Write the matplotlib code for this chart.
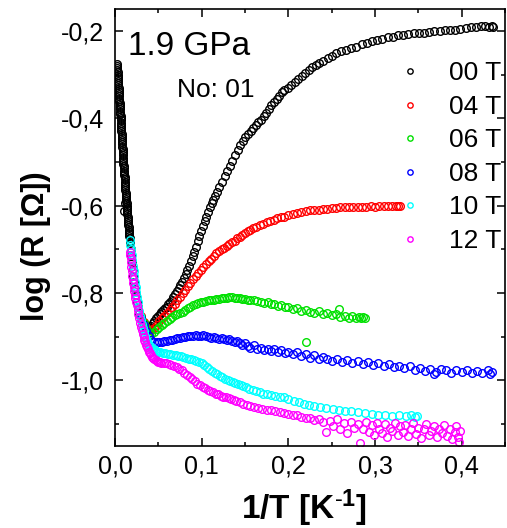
import matplotlib
matplotlib.use("Agg")
import matplotlib.pyplot as plt
from matplotlib.ticker import MultipleLocator, FuncFormatter

plt.rcParams['font.family'] = ['Liberation Sans', 'DejaVu Sans']
plt.rcParams['mathtext.fontset'] = 'custom'
plt.rcParams['mathtext.bf'] = 'Liberation Sans:bold'
plt.rcParams['mathtext.rm'] = 'Liberation Sans'
plt.rcParams['mathtext.default'] = 'bf'
plt.rcParams['axes.unicode_minus'] = False

# 00 T
t00_x = [0.0023, 0.0025, 0.0026, 0.0028, 0.0030, 0.0031, 0.0033, 0.0035, 0.0037, 0.0038,
         0.0040, 0.0042, 0.0044, 0.0045, 0.0047, 0.0049, 0.0051, 0.0052, 0.0054, 0.0056,
         0.0057, 0.0059, 0.0061, 0.0062, 0.0064, 0.0066, 0.0068, 0.0069, 0.0071, 0.0072,
         0.0074, 0.0075, 0.0077, 0.0078, 0.0080, 0.0081, 0.0083, 0.0084, 0.0086, 0.0087,
         0.0089, 0.0090, 0.0092, 0.0093, 0.0095, 0.0096, 0.0098, 0.0100, 0.0102, 0.0104,
         0.0106, 0.0108, 0.0110, 0.0112, 0.0114, 0.0116, 0.0118, 0.0119, 0.0121, 0.0123,
         0.0125, 0.0127, 0.0129, 0.0131, 0.0133, 0.0135, 0.0137, 0.0140, 0.0142, 0.0144,
         0.0146, 0.0149, 0.0151, 0.0153, 0.0155, 0.0157, 0.0159, 0.0162, 0.0164, 0.0166,
         0.0168, 0.0170, 0.0172, 0.0115, 0.0104,
         0.0180, 0.0188, 0.0196, 0.0204, 0.0212, 0.0221, 0.0231, 0.0242,
         0.0255, 0.0268, 0.0282, 0.0297, 0.0313, 0.0330, 0.0348, 0.0366, 0.0384, 0.0400,
         0.0418, 0.0436, 0.0455, 0.0475, 0.0495, 0.0515, 0.0535, 0.0555, 0.0575, 0.0595,
         0.0615, 0.0635, 0.0655, 0.0675, 0.0695, 0.0715, 0.0735, 0.0755, 0.0775, 0.0795,
         0.0815, 0.0835, 0.0855, 0.0875, 0.0895, 0.0915, 0.0935, 0.0955, 0.0975, 0.0995,
         0.1015, 0.1035, 0.1055, 0.1075, 0.1095, 0.1115, 0.1135, 0.1155, 0.1175, 0.1205,
         0.1235, 0.1265, 0.1295, 0.1325, 0.1355, 0.1385, 0.1415, 0.1445, 0.1475, 0.1505,
         0.1535, 0.1565, 0.1595, 0.1625, 0.1655, 0.1685, 0.1715, 0.1745, 0.1775, 0.1805,
         0.1835, 0.1865, 0.1895, 0.1925, 0.1955, 0.1995, 0.2035, 0.2075, 0.2115, 0.2155,
         0.2195, 0.2235, 0.2275, 0.2315, 0.2355, 0.2405, 0.2455, 0.2505, 0.2555, 0.2605,
         0.2665, 0.2725, 0.2785, 0.2845, 0.2905, 0.2965, 0.3025, 0.3085, 0.3145, 0.3205,
         0.3265, 0.3325, 0.3385, 0.3445, 0.3505, 0.3565, 0.3625, 0.3685, 0.3745, 0.3805,
         0.3865, 0.3925, 0.3985, 0.4045, 0.4105, 0.4165, 0.4225, 0.4275, 0.4315, 0.4345,
         0.4365]
t00_y = [-0.275, -0.280, -0.285, -0.290, -0.295, -0.300, -0.305, -0.310, -0.315, -0.320,
         -0.325, -0.330, -0.335, -0.340, -0.345, -0.350, -0.355, -0.360, -0.365, -0.370,
         -0.375, -0.380, -0.385, -0.390, -0.395, -0.400, -0.405, -0.410, -0.415, -0.420,
         -0.425, -0.430, -0.435, -0.440, -0.445, -0.450, -0.455, -0.460, -0.465, -0.470,
         -0.475, -0.480, -0.485, -0.490, -0.495, -0.500, -0.505, -0.510, -0.515, -0.520,
         -0.525, -0.530, -0.535, -0.540, -0.545, -0.550, -0.555, -0.560, -0.565, -0.570,
         -0.575, -0.580, -0.585, -0.590, -0.595, -0.600, -0.605, -0.610, -0.615, -0.620,
         -0.625, -0.630, -0.635, -0.640, -0.645, -0.650, -0.655, -0.660, -0.665, -0.670,
         -0.675, -0.680, -0.685, -0.593, -0.613,
         -0.700, -0.715, -0.730, -0.745, -0.760, -0.775, -0.790, -0.805,
         -0.820, -0.833, -0.845, -0.856, -0.865, -0.872, -0.877, -0.880, -0.881, -0.880,
         -0.875, -0.869, -0.863, -0.857, -0.852, -0.847, -0.843, -0.839, -0.835, -0.831,
         -0.826, -0.821, -0.815, -0.809, -0.802, -0.795, -0.788, -0.781, -0.774, -0.766,
         -0.757, -0.747, -0.737, -0.727, -0.716, -0.705, -0.694, -0.682, -0.670, -0.658,
         -0.647, -0.636, -0.625, -0.614, -0.604, -0.595, -0.586, -0.577, -0.569, -0.557,
         -0.545, -0.533, -0.521, -0.509, -0.497, -0.485, -0.473, -0.462, -0.452, -0.443,
         -0.436, -0.430, -0.423, -0.416, -0.409, -0.403, -0.396, -0.388, -0.378, -0.369,
         -0.362, -0.355, -0.348, -0.341, -0.335, -0.330, -0.324, -0.318, -0.311, -0.304,
         -0.297, -0.289, -0.283, -0.279, -0.274, -0.268, -0.262, -0.257, -0.251, -0.247,
         -0.244, -0.240, -0.236, -0.231, -0.227, -0.224, -0.221, -0.218, -0.215, -0.213,
         -0.210, -0.209, -0.207, -0.206, -0.205, -0.204, -0.202, -0.201, -0.200, -0.199,
         -0.198, -0.197, -0.195, -0.193, -0.192, -0.191, -0.190, -0.189, -0.191, -0.190,
         -0.192]

# 04 T
t04_x = [0.030, 0.033, 0.036, 0.039, 0.042, 0.045, 0.048, 0.051, 0.054, 0.057,
         0.060, 0.063, 0.066, 0.069, 0.072, 0.075, 0.078, 0.081, 0.084, 0.087,
         0.090, 0.093, 0.096, 0.099, 0.102, 0.105, 0.108, 0.111, 0.114, 0.117,
         0.120, 0.123, 0.126, 0.129, 0.132, 0.135, 0.138, 0.141, 0.144, 0.147,
         0.150, 0.153, 0.156, 0.159, 0.163, 0.167, 0.171, 0.175, 0.179, 0.183,
         0.187, 0.191, 0.195, 0.200, 0.205, 0.210, 0.215, 0.220, 0.225, 0.230,
         0.235, 0.240, 0.245, 0.250, 0.255, 0.260, 0.265, 0.270, 0.275, 0.280,
         0.285, 0.290, 0.295, 0.300, 0.305, 0.310, 0.315, 0.320, 0.324, 0.327,
         0.329]
t04_y = [-0.852, -0.866, -0.877, -0.884, -0.885, -0.879, -0.872, -0.865, -0.858, -0.852,
         -0.845, -0.838, -0.832, -0.825, -0.817, -0.809, -0.800, -0.792, -0.784, -0.776,
         -0.768, -0.761, -0.754, -0.747, -0.740, -0.733, -0.727, -0.721, -0.715, -0.709,
         -0.704, -0.700, -0.696, -0.692, -0.688, -0.684, -0.680, -0.675, -0.671, -0.667,
         -0.663, -0.659, -0.655, -0.652, -0.648, -0.645, -0.641, -0.638, -0.635, -0.632,
         -0.629, -0.627, -0.625, -0.622, -0.620, -0.617, -0.615, -0.613, -0.611, -0.610,
         -0.609, -0.608, -0.607, -0.606, -0.605, -0.604, -0.604, -0.603, -0.603, -0.602,
         -0.602, -0.602, -0.601, -0.602, -0.601, -0.601, -0.600, -0.601, -0.600, -0.601,
         -0.600]

# 06 T
t06_x = [0.030, 0.033, 0.036, 0.039, 0.042, 0.045, 0.048, 0.051, 0.054, 0.057,
         0.060, 0.063, 0.066, 0.069, 0.072, 0.075, 0.078, 0.081, 0.084, 0.087,
         0.090, 0.093, 0.096, 0.099, 0.102, 0.105, 0.108, 0.111, 0.114, 0.117,
         0.120, 0.123, 0.126, 0.129, 0.132, 0.135, 0.138, 0.141, 0.144, 0.147,
         0.150, 0.153, 0.156, 0.160, 0.164, 0.168, 0.172, 0.176, 0.180, 0.184,
         0.188, 0.192, 0.196, 0.200, 0.205, 0.210, 0.215, 0.220, 0.225, 0.230,
         0.235, 0.240, 0.245, 0.250, 0.255, 0.259, 0.260, 0.265, 0.270, 0.274,
         0.278, 0.281, 0.284, 0.286, 0.288, 0.220]
t06_y = [-0.855, -0.869, -0.881, -0.890, -0.894, -0.889, -0.883, -0.878, -0.873, -0.868,
         -0.864, -0.859, -0.855, -0.851, -0.848, -0.846, -0.843, -0.839, -0.835, -0.831,
         -0.828, -0.825, -0.823, -0.821, -0.820, -0.818, -0.817, -0.816, -0.815, -0.814,
         -0.813, -0.812, -0.811, -0.811, -0.810, -0.810, -0.811, -0.812, -0.811, -0.813,
         -0.814, -0.815, -0.817, -0.816, -0.819, -0.820, -0.822, -0.821, -0.825, -0.826,
         -0.829, -0.828, -0.832, -0.833, -0.836, -0.834, -0.840, -0.839, -0.843, -0.845,
         -0.842, -0.848, -0.846, -0.851, -0.849, -0.836, -0.854, -0.852, -0.856, -0.853,
         -0.857, -0.855, -0.858, -0.854, -0.857, -0.913]

# 08 T
t08_x = [0.030, 0.033, 0.036, 0.039, 0.042, 0.045, 0.048, 0.051, 0.054, 0.057,
         0.060, 0.063, 0.066, 0.069, 0.072, 0.075, 0.078, 0.081, 0.084, 0.087,
         0.090, 0.093, 0.096, 0.099, 0.102, 0.105, 0.108, 0.111, 0.114, 0.117,
         0.120, 0.123, 0.126, 0.129, 0.132, 0.135, 0.138, 0.141, 0.144, 0.147,
         0.150, 0.153, 0.156, 0.160, 0.164, 0.168, 0.172, 0.176, 0.180, 0.184,
         0.188, 0.192, 0.196, 0.200, 0.205, 0.210, 0.215, 0.220, 0.225, 0.230,
         0.235, 0.240, 0.245, 0.250, 0.256, 0.262, 0.268, 0.274, 0.280, 0.286,
         0.292, 0.298, 0.304, 0.310, 0.316, 0.322, 0.328, 0.334, 0.340, 0.346,
         0.352, 0.358, 0.364, 0.368, 0.370, 0.376, 0.382, 0.388, 0.394, 0.400,
         0.406, 0.412, 0.418, 0.424, 0.430, 0.433, 0.435]
t08_y = [-0.858, -0.873, -0.887, -0.899, -0.908, -0.913, -0.913, -0.912, -0.911, -0.910,
         -0.909, -0.908, -0.907, -0.905, -0.904, -0.902, -0.901, -0.900, -0.899, -0.898,
         -0.898, -0.897, -0.898, -0.899, -0.897, -0.899, -0.900, -0.902, -0.901, -0.903,
         -0.905, -0.903, -0.906, -0.908, -0.906, -0.910, -0.912, -0.909, -0.915, -0.918,
         -0.914, -0.921, -0.925, -0.920, -0.928, -0.925, -0.930, -0.927, -0.933, -0.929,
         -0.935, -0.931, -0.938, -0.934, -0.940, -0.936, -0.945, -0.940, -0.948, -0.942,
         -0.952, -0.947, -0.950, -0.955, -0.950, -0.957, -0.953, -0.960, -0.956, -0.962,
         -0.958, -0.965, -0.961, -0.967, -0.963, -0.970, -0.966, -0.972, -0.968, -0.976,
         -0.971, -0.978, -0.973, -0.986, -0.980, -0.974, -0.976, -0.983, -0.977, -0.981,
         -0.975, -0.984, -0.978, -0.982, -0.976, -0.985, -0.980]

# 10 T
t10_x = [0.0170, 0.0177, 0.0185, 0.0192, 0.0200, 0.0207, 0.0215, 0.0222, 0.0230, 0.0237,
         0.0245, 0.0252, 0.0260, 0.0270, 0.0280, 0.0290, 0.0300, 0.0310, 0.0320, 0.0330,
         0.0340, 0.0350, 0.0360, 0.0370, 0.0380, 0.0390, 0.0400, 0.0415, 0.0430, 0.0445,
         0.0460, 0.0475, 0.0490, 0.0505, 0.0520, 0.0550, 0.0580,
         0.0610, 0.0640, 0.0670, 0.0700, 0.0730, 0.0760, 0.0790, 0.0820, 0.0850, 0.0880,
         0.0910, 0.0940, 0.0970, 0.1000, 0.1030, 0.1060, 0.1090, 0.1120, 0.1150, 0.1180,
         0.1210, 0.1240, 0.1270, 0.1300, 0.1330, 0.1360, 0.1390, 0.1420, 0.1450, 0.1480,
         0.1510, 0.1550, 0.1590, 0.1630, 0.1670, 0.1710, 0.1750, 0.1800, 0.1850, 0.1900,
         0.1950, 0.2000, 0.2060, 0.2120, 0.2180, 0.2240, 0.2300, 0.2370, 0.2440, 0.2510,
         0.2580, 0.2650, 0.2720, 0.2800, 0.2880, 0.2960, 0.3040, 0.3120, 0.3200, 0.3280,
         0.3360, 0.3420, 0.3460, 0.3490]
t10_y = [-0.678, -0.689, -0.700, -0.712, -0.725, -0.737, -0.750, -0.762, -0.775, -0.787,
         -0.798, -0.809, -0.820, -0.831, -0.842, -0.852, -0.862, -0.871, -0.879, -0.886,
         -0.893, -0.899, -0.905, -0.910, -0.914, -0.918, -0.921, -0.924, -0.927, -0.929,
         -0.931, -0.933, -0.934, -0.935, -0.936, -0.937, -0.938,
         -0.939, -0.940, -0.941, -0.942, -0.943, -0.944, -0.946, -0.948, -0.950, -0.952,
         -0.954, -0.956, -0.958, -0.961, -0.965, -0.969, -0.973, -0.978, -0.982, -0.986,
         -0.989, -0.993, -0.996, -0.998, -1.001, -1.004, -1.006, -1.008, -1.011, -1.013,
         -1.016, -1.019, -1.022, -1.025, -1.027, -1.030, -1.031, -1.034, -1.035, -1.037,
         -1.039, -1.042, -1.046, -1.050, -1.053, -1.056, -1.059, -1.061, -1.064, -1.066,
         -1.068, -1.070, -1.071, -1.073, -1.075, -1.076, -1.078, -1.079, -1.081, -1.080,
         -1.082, -1.080, -1.083, -1.081]

# 12 T
t12_x = [0.0173, 0.0177, 0.0180, 0.0185, 0.0190, 0.0195, 0.0200, 0.0205, 0.0210, 0.0215,
         0.0220, 0.0228, 0.0235, 0.0243, 0.0250, 0.0260, 0.0270, 0.0280, 0.0290, 0.0300,
         0.0310, 0.0320, 0.0330, 0.0340, 0.0350, 0.0360, 0.0370, 0.0380, 0.0390, 0.0400,
         0.0410, 0.0425, 0.0440, 0.0455, 0.0470, 0.0485, 0.0500, 0.0515, 0.0530,
         0.0560, 0.0590, 0.0620, 0.0650, 0.0680, 0.0710, 0.0740, 0.0770, 0.0800, 0.0830,
         0.0860, 0.0890, 0.0920, 0.0950, 0.0980, 0.1010, 0.1040, 0.1070, 0.1100, 0.1130,
         0.1160, 0.1190, 0.1220, 0.1250, 0.1280, 0.1310, 0.1340, 0.1370, 0.1400, 0.1440,
         0.1480, 0.1520, 0.1560, 0.1600, 0.1650, 0.1700, 0.1750, 0.1800, 0.1850, 0.1900,
         0.1950, 0.2000, 0.2050, 0.2100, 0.2150, 0.2200, 0.2250, 0.2300, 0.2350, 0.2400,
         0.2440, 0.2480, 0.2520, 0.2560, 0.2600, 0.2640, 0.2680, 0.2720, 0.2760, 0.2800,
         0.2830, 0.2860, 0.2900, 0.2930, 0.2960, 0.2990, 0.3020, 0.3050, 0.3080, 0.3110,
         0.3140, 0.3170, 0.3200, 0.3230, 0.3260, 0.3290, 0.3320, 0.3350, 0.3380, 0.3410,
         0.3440, 0.3470, 0.3500, 0.3530, 0.3560, 0.3590, 0.3620, 0.3650, 0.3680, 0.3710,
         0.3740, 0.3770, 0.3800, 0.3830, 0.3860, 0.3890, 0.3920, 0.3940, 0.3960, 0.3970,
         0.3980]
t12_y = [-0.705, -0.712, -0.720, -0.730, -0.740, -0.750, -0.760, -0.769, -0.778, -0.787,
         -0.795, -0.804, -0.812, -0.820, -0.828, -0.838, -0.848, -0.858, -0.868, -0.877,
         -0.885, -0.893, -0.900, -0.907, -0.913, -0.919, -0.924, -0.929, -0.934, -0.938,
         -0.942, -0.946, -0.949, -0.952, -0.954, -0.956, -0.957, -0.958, -0.959,
         -0.960, -0.961, -0.962, -0.964, -0.966, -0.969, -0.973, -0.977, -0.982, -0.987,
         -0.992, -0.997, -1.002, -1.007, -1.011, -1.014, -1.018, -1.021, -1.024, -1.027,
         -1.030, -1.032, -1.035, -1.037, -1.039, -1.041, -1.043, -1.045, -1.047, -1.050,
         -1.053, -1.056, -1.058, -1.061, -1.063, -1.065, -1.067, -1.068, -1.070, -1.072,
         -1.074, -1.076, -1.078, -1.080, -1.083, -1.085, -1.087, -1.090, -1.088, -1.095,
         -1.118, -1.092, -1.105, -1.088, -1.110, -1.097, -1.121, -1.094, -1.108, -1.099,
         -1.143, -1.112, -1.095, -1.118, -1.102, -1.125, -1.097, -1.110, -1.120, -1.100,
         -1.130, -1.108, -1.115, -1.098, -1.125, -1.105, -1.118, -1.102, -1.128, -1.110,
         -1.098, -1.122, -1.108, -1.132, -1.112, -1.100, -1.125, -1.115, -1.105, -1.130,
         -1.112, -1.120, -1.103, -1.128, -1.110, -1.135, -1.118, -1.105, -1.130, -1.140,
         -1.115]

series = [
    (t00_x, t00_y, 'black', '00 T'),
    (t04_x, t04_y, '#ff0000', '04 T'),
    (t06_x, t06_y, '#00e000', '06 T'),
    (t08_x, t08_y, '#0000ff', '08 T'),
    (t10_x, t10_y, '#00ffff', '10 T'),
    (t12_x, t12_y, '#ff00ff', '12 T'),
]

fig = plt.figure(figsize=(5.07, 5.28), dpi=100)
ax = fig.add_axes([0.2268, 0.1553, 0.7692, 0.8277])

for xs, ys, col, lab in series:
    ax.plot(xs, ys, 'o', mfc='none', mec=col, ms=5.5, mew=1.0, label=lab)

ax.set_xlim(0, 0.45)
ax.set_ylim(-1.15, -0.15)

comma = FuncFormatter(lambda v, p: f"{v:.1f}".replace('.', ','))
ax.xaxis.set_major_locator(MultipleLocator(0.1))
ax.xaxis.set_minor_locator(MultipleLocator(0.05))
ax.yaxis.set_major_locator(MultipleLocator(0.2))
ax.yaxis.set_minor_locator(MultipleLocator(0.1))
ax.xaxis.set_major_formatter(comma)
ax.yaxis.set_major_formatter(comma)

ax.tick_params(which='both', direction='in', top=True, right=True, width=1.1)
ax.tick_params(which='major', length=5.8)
ax.tick_params(which='minor', length=3)
ax.tick_params(axis='x', labelsize=18, pad=6)
ax.tick_params(axis='y', labelsize=18, pad=8)
for s in ax.spines.values():
    s.set_linewidth(1.2)

ax.set_xlabel(r'1/T [K$^{\text{-}1}$]', fontsize=24, fontweight='bold')
ax.set_ylabel('log (R [\u03a9])', fontsize=22, fontweight='bold')
ax.xaxis.set_label_coords(0.485, -0.096)
ax.yaxis.set_label_coords(-0.165, 0.458)

ax.text(0.033, 0.895, '1.9 GPa', fontsize=24, transform=ax.transAxes, va='baseline')
ax.text(0.159, 0.799, 'No: 01', fontsize=19, transform=ax.transAxes, va='baseline')

ax.legend(frameon=False, loc='upper left', bbox_to_anchor=(0.722, 0.880),
          fontsize=19, markerscale=0.7, handlelength=1.0, handletextpad=1.0,
          labelspacing=0.36, borderpad=0, borderaxespad=0)

fig.savefig('out.png', dpi=100)
